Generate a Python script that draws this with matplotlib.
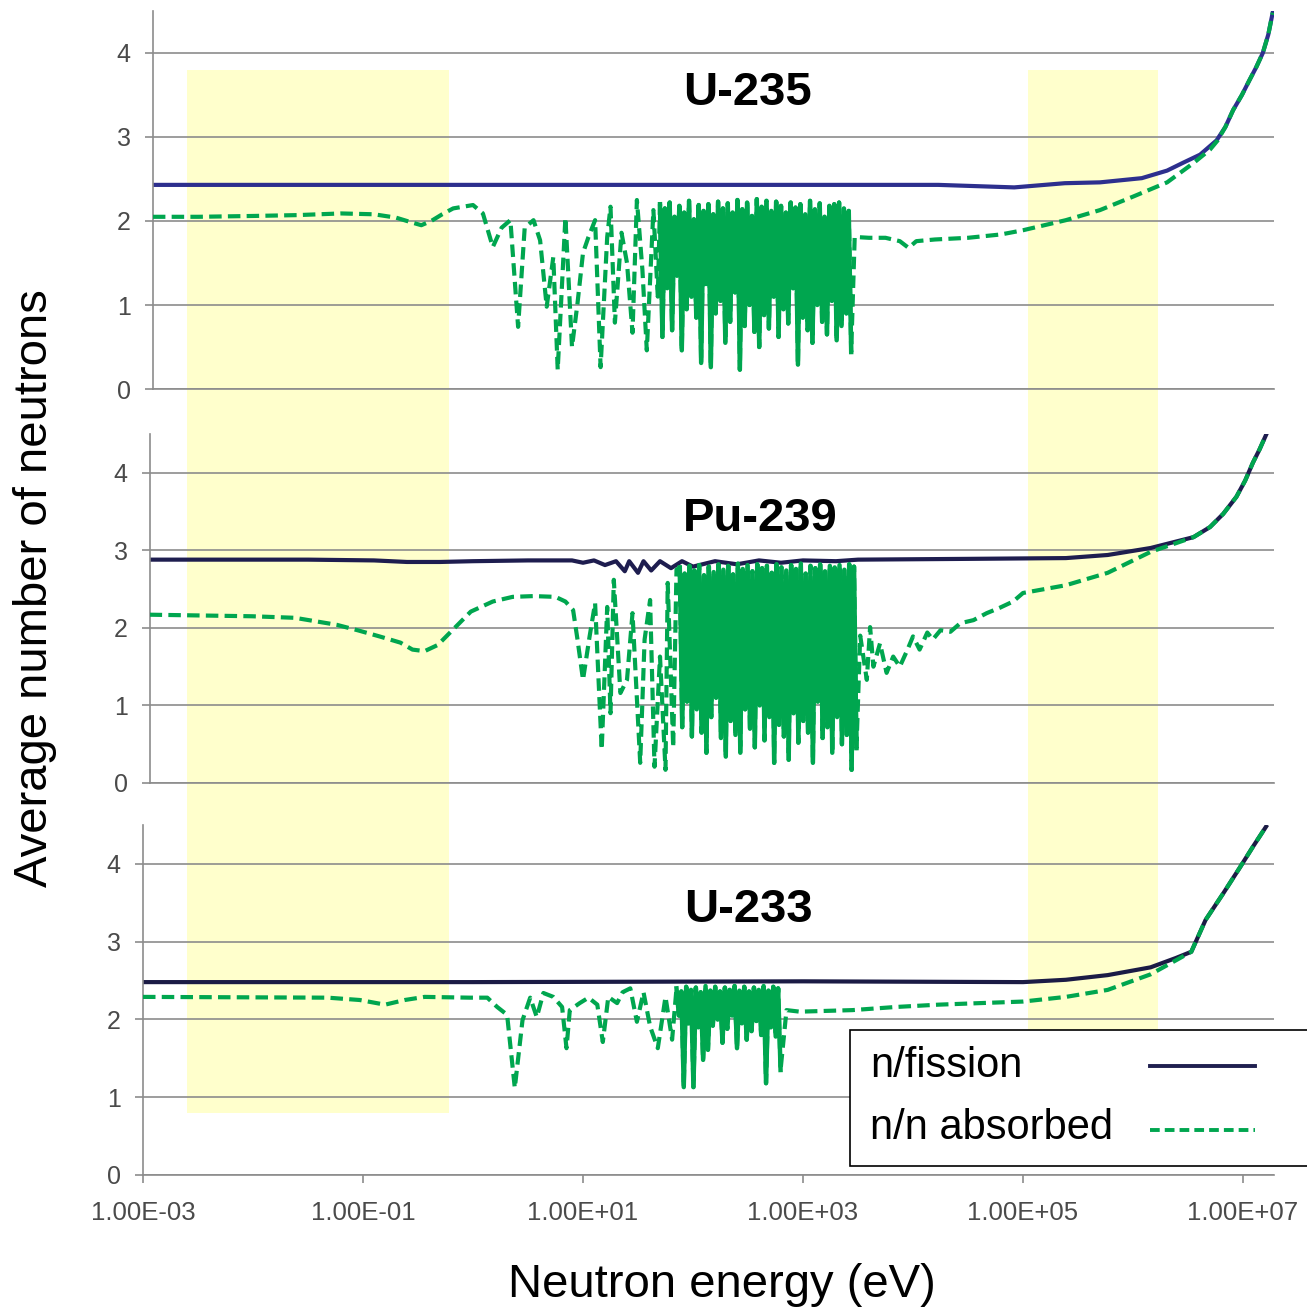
import numpy as np
import matplotlib.pyplot as plt
from matplotlib.patches import Rectangle
from matplotlib.lines import Line2D
from matplotlib.ticker import NullLocator

plt.rcParams['font.family'] = ['Liberation Sans', 'DejaVu Sans']

# ---------------------------------
# Data
# energies are stored as log10(E / eV)
# ---------------------------------

tick_values = [1e-3, 1e-1, 1e1, 1e3, 1e5, 1e7]
tick_labels = ["1.00E-03", "1.00E-01", "1.00E+01", "1.00E+03", "1.00E+05", "1.00E+07"]

band_edges = [(2.5e-3, 0.6), (1.1e5, 1.7e6)]

# ---------- U-235 ----------
u235_nu_loge = [-2.91, 0.0, 3.0, 4.23, 4.92, 5.38, 5.70, 6.08, 6.31, 6.45,
                6.61, 6.76, 6.84, 6.91, 6.99, 7.06, 7.12, 7.18, 7.23, 7.27]
u235_nu = [2.43, 2.43, 2.43, 2.43, 2.40, 2.45, 2.46, 2.51, 2.60, 2.69,
           2.79, 2.96, 3.12, 3.32, 3.50, 3.68, 3.83, 4.00, 4.22, 4.48]

u235_eta_low_loge = [-2.91, -2.5, -2.0, -1.6, -1.2, -0.9, -0.7, -0.55, -0.47, -0.38,
                     -0.28, -0.18, 0.0, 0.09, 0.18, 0.26, 0.34, 0.41, 0.47, 0.55,
                     0.61, 0.67, 0.73, 0.77, 0.84, 0.90, 0.95, 1.00, 1.05, 1.11,
                     1.16, 1.22, 1.25, 1.29, 1.35, 1.40, 1.45, 1.49, 1.54, 1.58,
                     1.64, 1.68]
u235_eta_low = [2.05, 2.05, 2.06, 2.07, 2.09, 2.08, 2.04, 1.98, 1.95, 2.00,
                2.08, 2.15, 2.19, 2.09, 1.69, 1.92, 2.01, 0.74, 1.92, 2.01,
                1.77, 0.98, 1.57, 0.23, 2.04, 0.50, 1.02, 1.62, 1.81, 2.01,
                0.26, 1.81, 2.17, 0.79, 1.86, 1.50, 0.67, 2.25, 1.42, 0.46,
                2.13, 1.10]

u235_res_loge = [1.700, 1.722, 1.744, 1.766, 1.788, 1.810, 1.832, 1.854, 1.876, 1.898,
                 1.920, 1.942, 1.964, 1.986, 2.008, 2.030, 2.052, 2.074, 2.096, 2.118,
                 2.140, 2.162, 2.184, 2.206, 2.228, 2.250, 2.272, 2.294, 2.316, 2.338,
                 2.360, 2.382, 2.404, 2.426, 2.448, 2.470, 2.492, 2.514, 2.536, 2.558,
                 2.580, 2.602, 2.624, 2.646, 2.668, 2.690, 2.712, 2.734, 2.756, 2.778,
                 2.800, 2.822, 2.844, 2.866, 2.888, 2.910, 2.932, 2.954, 2.976, 2.998,
                 3.020, 3.042, 3.064, 3.086, 3.108, 3.130, 3.152, 3.174, 3.196, 3.218,
                 3.240, 3.262, 3.284, 3.306, 3.328, 3.350, 3.372, 3.394, 3.416, 3.438]
u235_res = [2.20, 0.62, 2.15, 1.20, 2.22, 0.70, 2.05, 1.35, 2.18, 0.46,
            2.10, 0.95, 2.24, 1.10, 2.02, 0.85, 2.19, 0.31, 2.12, 1.25,
            2.20, 0.26, 2.08, 0.90, 2.23, 1.05, 2.15, 0.55, 2.21, 0.80,
            2.10, 1.15, 2.25, 0.23, 2.14, 0.75, 2.22, 1.00, 2.06, 0.68,
            2.26, 0.50, 2.17, 0.88, 2.24, 0.72, 2.12, 1.10, 2.23, 0.62,
            2.18, 0.95, 2.10, 0.78, 2.22, 1.20, 2.16, 0.29, 2.20, 0.85,
            2.08, 0.70, 2.24, 0.55, 2.14, 1.00, 2.21, 0.80, 2.05, 0.65,
            2.18, 1.05, 2.20, 0.58, 2.22, 0.75, 2.15, 0.90, 2.12, 0.44]

u235_eta_high_loge = [3.47, 3.60, 3.75, 3.88, 3.96, 4.03, 4.20, 4.50, 4.80, 5.00,
                      5.39, 5.70, 6.00, 6.31, 6.55, 6.70, 6.77, 6.84, 6.91, 6.99,
                      7.06, 7.12, 7.18, 7.23, 7.27]
u235_eta_high = [1.81, 1.80, 1.80, 1.76, 1.68, 1.76, 1.78, 1.80, 1.84, 1.89,
                 2.01, 2.13, 2.29, 2.46, 2.69, 2.85, 2.96, 3.12, 3.32, 3.50,
                 3.68, 3.83, 4.00, 4.22, 4.48]

# ---------- Pu-239 ----------
pu239_nu_loge = [-2.94, -1.5, -0.9, -0.6, -0.3, 0.0, 0.5, 0.9, 1.0, 1.1,
                 1.2, 1.3, 1.38, 1.42, 1.5, 1.55, 1.62, 1.7, 1.8, 1.9,
                 2.0, 2.2, 2.4, 2.6, 2.8, 3.0, 3.3, 3.5, 4.5, 5.39,
                 5.77, 6.16, 6.55, 6.70, 6.82, 6.94, 7.02, 7.09, 7.15, 7.21]
pu239_nu = [2.88, 2.88, 2.87, 2.85, 2.85, 2.86, 2.87, 2.87, 2.84, 2.87,
            2.81, 2.86, 2.73, 2.86, 2.71, 2.86, 2.74, 2.86, 2.77, 2.86,
            2.79, 2.86, 2.82, 2.87, 2.84, 2.87, 2.86, 2.88, 2.89, 2.90,
            2.94, 3.03, 3.17, 3.30, 3.47, 3.69, 3.90, 4.13, 4.30, 4.49]

pu239_eta_low_loge = [-2.94, -2.01, -1.62, -1.24, -1.05, -0.85, -0.66, -0.55, -0.44, -0.32,
                      -0.16, -0.02, 0.18, 0.36, 0.55, 0.75, 0.84, 0.91, 0.95, 1.00,
                      1.06, 1.11, 1.17, 1.22, 1.25, 1.28, 1.34, 1.40, 1.45, 1.52,
                      1.56, 1.61, 1.65, 1.70, 1.75, 1.77, 1.82, 1.85]
pu239_eta_low = [2.17, 2.15, 2.13, 2.04, 1.97, 1.89, 1.81, 1.72, 1.70, 1.78,
                 2.01, 2.21, 2.34, 2.40, 2.41, 2.40, 2.34, 2.23, 1.85, 1.33,
                 1.89, 2.32, 0.43, 2.27, 0.90, 2.62, 1.16, 1.33, 2.19, 0.26,
                 1.85, 2.36, 0.21, 1.63, 0.17, 2.58, 0.46, 2.75]

pu239_res_loge = [1.880, 1.902, 1.924, 1.946, 1.968, 1.990, 2.012, 2.034, 2.056, 2.078,
                  2.100, 2.122, 2.144, 2.166, 2.188, 2.210, 2.232, 2.254, 2.276, 2.298,
                  2.320, 2.342, 2.364, 2.386, 2.408, 2.430, 2.452, 2.474, 2.496, 2.518,
                  2.540, 2.562, 2.584, 2.606, 2.628, 2.650, 2.672, 2.694, 2.716, 2.738,
                  2.760, 2.782, 2.804, 2.826, 2.848, 2.870, 2.892, 2.914, 2.936, 2.958,
                  2.980, 3.002, 3.024, 3.046, 3.068, 3.090, 3.112, 3.134, 3.156, 3.178,
                  3.200, 3.222, 3.244, 3.266, 3.288, 3.310, 3.332, 3.354, 3.376, 3.398,
                  3.420, 3.442, 3.464, 3.486]
pu239_res = [2.78, 0.72, 2.70, 1.05, 2.80, 0.60, 2.74, 0.95, 2.81, 0.65,
             2.68, 0.39, 2.79, 0.85, 2.72, 1.10, 2.82, 0.58, 2.75, 0.34,
             2.80, 0.80, 2.69, 0.62, 2.83, 0.39, 2.76, 0.95, 2.81, 0.70,
             2.73, 0.46, 2.82, 1.00, 2.77, 0.55, 2.80, 0.85, 2.71, 0.26,
             2.82, 0.75, 2.78, 0.60, 2.74, 0.30, 2.81, 0.90, 2.76, 0.52,
             2.83, 0.80, 2.70, 0.65, 2.80, 0.26, 2.77, 1.05, 2.82, 0.58,
             2.73, 0.72, 2.80, 0.39, 2.78, 0.85, 2.81, 0.50, 2.75, 0.62,
             2.82, 0.17, 2.79, 0.45]

pu239_eta_high_loge = [3.52, 3.58, 3.61, 3.64, 3.70, 3.76, 3.82, 3.88, 3.95, 4.00,
                       4.06, 4.13, 4.18, 4.25, 4.34, 4.43, 4.55, 4.67, 4.79, 4.91,
                       5.00, 5.39, 5.77, 6.16, 6.55, 6.70, 6.82, 6.94, 7.02, 7.09,
                       7.15, 7.21]
pu239_eta_high = [1.90, 1.33, 2.01, 1.50, 1.80, 1.42, 1.63, 1.50, 1.72, 1.89,
                  1.72, 1.94, 1.85, 1.97, 1.95, 2.06, 2.10, 2.19, 2.26, 2.34,
                  2.45, 2.55, 2.71, 2.98, 3.17, 3.30, 3.47, 3.69, 3.90, 4.13,
                  4.30, 4.49]

# ---------- U-233 ----------
u233_nu_loge = [-3.0, 0.0, 3.0, 5.0, 5.39, 5.77, 6.16, 6.39, 6.53, 6.66,
                6.82, 6.97, 7.09, 7.21]
u233_nu = [2.48, 2.48, 2.49, 2.48, 2.51, 2.57, 2.67, 2.79, 2.87, 3.28,
           3.62, 3.95, 4.22, 4.48]

u233_eta_low_loge = [-3.0, -1.32, -1.03, -0.80, -0.62, -0.44, -0.03, 0.13, 0.22, 0.31,
                     0.38, 0.45, 0.52, 0.58, 0.64, 0.73, 0.81, 0.85, 0.88, 0.97,
                     1.05, 1.13, 1.18, 1.23, 1.31, 1.36, 1.43, 1.49, 1.55, 1.61,
                     1.68, 1.75, 1.81]
u233_eta_low = [2.29, 2.28, 2.25, 2.19, 2.25, 2.29, 2.28, 2.28, 2.16, 2.06,
                1.12, 1.99, 2.28, 2.03, 2.34, 2.29, 2.16, 1.63, 2.12, 2.21,
                2.28, 2.19, 1.71, 2.29, 2.21, 2.35, 2.40, 1.97, 2.35, 1.91,
                1.63, 2.29, 1.74]

u233_res_loge = [1.850, 1.872, 1.894, 1.916, 1.938, 1.960, 1.982, 2.004, 2.026, 2.048,
                 2.070, 2.092, 2.114, 2.136, 2.158, 2.180, 2.202, 2.224, 2.246, 2.268,
                 2.290, 2.312, 2.334, 2.356, 2.378, 2.400, 2.422, 2.444, 2.466, 2.488,
                 2.510, 2.532, 2.554, 2.576, 2.598, 2.620, 2.642, 2.664, 2.686, 2.708,
                 2.730, 2.752, 2.774, 2.796]
u233_res = [2.40, 2.05, 2.36, 1.13, 2.42, 1.95, 2.38, 1.13, 2.41, 1.90,
            2.35, 1.48, 2.43, 1.61, 2.37, 1.92, 2.42, 2.00, 2.36, 1.70,
            2.41, 1.88, 2.38, 2.05, 2.43, 1.63, 2.37, 1.95, 2.42, 1.74,
            2.36, 1.85, 2.41, 1.98, 2.38, 1.80, 2.43, 1.18, 2.37, 1.90,
            2.42, 1.78, 2.40, 1.35]

u233_eta_high_loge = [2.85, 2.97, 3.45, 3.84, 4.23, 4.61, 5.00, 5.39, 5.77, 6.16,
                      6.39, 6.53, 6.66, 6.82, 6.97, 7.09, 7.21]
u233_eta_high = [2.12, 2.10, 2.12, 2.16, 2.19, 2.21, 2.23, 2.29, 2.38, 2.58,
                 2.76, 2.87, 3.28, 3.62, 3.95, 4.22, 4.48]

# ---------------------------------
# Layout (pixels of the 1307 x 1313 picture)
# ---------------------------------

W, H = 1307, 1313
x_max = 1.9e7
panel_xmin = [1.23e-3, 1.16e-3, 1.0e-3]
panel_rows = [(11, 389), (434, 783), (825, 1175)]


def px_x(e):
    # 1.00E-03 sits at column 143, one decade is 110 px
    return 143 + 110 * (np.log10(e) + 3)


grey = "#8c8c8c"
green = "#00a64f"
nu_colors = ["#2d2f8e", "#1e1d4f", "#1b1b45"]

panels = [
    ("U-235", u235_nu_loge, u235_nu,
     [u235_eta_low_loge, u235_res_loge, u235_eta_high_loge],
     [u235_eta_low, u235_res, u235_eta_high], (316, 3.52)),
    ("Pu-239", pu239_nu_loge, pu239_nu,
     [pu239_eta_low_loge, pu239_res_loge, pu239_eta_high_loge],
     [pu239_eta_low, pu239_res, pu239_eta_high], (407, 3.41)),
    ("U-233", u233_nu_loge, u233_nu,
     [u233_eta_low_loge, u233_res_loge, u233_eta_high_loge],
     [u233_eta_low, u233_res, u233_eta_high], (316, 3.41)),
]

fig = plt.figure(figsize=(W / 100, H / 100), dpi=100)
fig.patch.set_facecolor("white")

axes = []

for i, (name, nu_loge, nu, eta_loge_parts, eta_parts, title_xy) in enumerate(panels):

    top, bottom = panel_rows[i]
    left = px_x(panel_xmin[i])
    right = px_x(x_max)

    ax = fig.add_axes([left / W, 1 - bottom / H, (right - left) / W, (bottom - top) / H])
    ax.set_facecolor("none")
    ax.set_xscale("log")
    ax.set_xlim(panel_xmin[i], x_max)
    ax.set_ylim(0, 4.5)

    eta_loge = np.concatenate([np.array(p, dtype=float) for p in eta_loge_parts])
    eta = np.concatenate([np.array(p, dtype=float) for p in eta_parts])

    ax.plot(10 ** np.array(nu_loge), nu, color=nu_colors[i], lw=3, zorder=2)
    ax.plot(10 ** eta_loge, eta, color=green, lw=3, dashes=(3, 1.5), zorder=3)

    # the resonance block is so dense that the dashes run together
    res_loge, res = eta_loge_parts[1], eta_parts[1]
    ax.plot(10 ** np.array(res_loge), res, color=green, lw=3.2, zorder=3)

    ax.set_yticks([0, 1, 2, 3, 4])
    ax.yaxis.grid(True, color=grey, lw=1.2)
    ax.set_axisbelow(True)
    ax.xaxis.set_minor_locator(NullLocator())

    for s in ["top", "right"]:
        ax.spines[s].set_visible(False)
    for s in ["left", "bottom"]:
        ax.spines[s].set_color(grey)
        ax.spines[s].set_linewidth(1.2)

    ax.tick_params(axis="y", direction="out", length=6, width=1.2, color=grey,
                   labelsize=18, labelcolor="#4a4a4a", pad=10)

    if i < 2:
        ax.tick_params(axis="x", bottom=False, labelbottom=False)
    else:
        ax.set_xticks(tick_values)
        ax.set_xticklabels(tick_labels)
        ax.tick_params(axis="x", direction="out", length=6, width=1.2, color=grey,
                       labelsize=18.5, labelcolor="#4a4a4a", pad=13)

    ax.text(title_xy[0], title_xy[1], name, ha="center", va="center",
            fontsize=34, fontweight="bold", color="black", zorder=4)

    axes.append(ax)

# ---------------------------------
# Yellow bands across all panels
# ---------------------------------

to_fig = fig.transFigure.inverted()
for e0, e1 in band_edges:
    x0, y1 = to_fig.transform(axes[0].transData.transform((e0, 3.8)))
    x1, y0 = to_fig.transform(axes[2].transData.transform((e1, 0.8)))
    fig.add_artist(Rectangle((x0, y0), x1 - x0, y1 - y0, transform=fig.transFigure,
                             facecolor="#ffffcc", edgecolor="none", zorder=-1))

# ---------------------------------
# Legend box (text left, sample line right)
# ---------------------------------

fig.add_artist(Rectangle((850 / W, 1 - 1166 / H), 480 / W, 136 / H,
                         transform=fig.transFigure, facecolor="white",
                         edgecolor="black", lw=1.2, zorder=5))
fig.text(870 / W, 1 - 1066 / H, "n/fission", fontsize=30, va="center", zorder=6)
fig.text(870 / W, 1 - 1128 / H, "n/n absorbed", fontsize=30, va="center", zorder=6)
fig.add_artist(Line2D([1150 / W, 1255 / W], [1 - 1066 / H, 1 - 1066 / H],
                      transform=fig.transFigure, color="#1f1f4f", lw=2.8, zorder=6))
fig.add_artist(Line2D([1150 / W, 1255 / W], [1 - 1130 / H, 1 - 1130 / H],
                      transform=fig.transFigure, color=green, lw=2.8,
                      dashes=(2.5, 1.3), zorder=6))

# ---------------------------------
# Axis titles
# ---------------------------------

fig.text(35 / W, 1 - 588 / H, "Average number of neutrons", rotation=90,
         fontsize=34, ha="center", va="center")
fig.text(722 / W, 1 - 1285 / H, "Neutron energy (eV)",
         fontsize=34, ha="center", va="center")

fig.savefig("out.png", dpi=100)
